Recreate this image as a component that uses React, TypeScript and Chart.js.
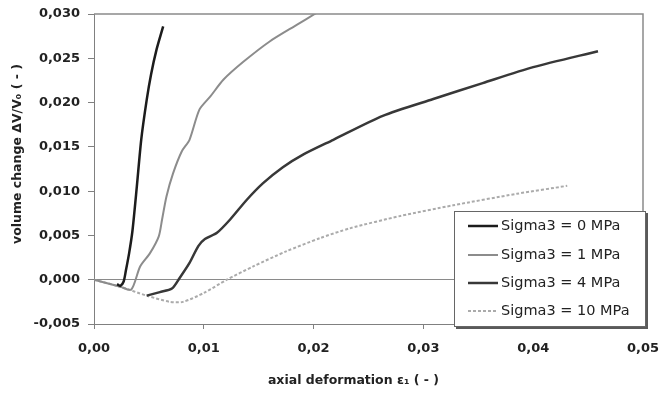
import React, { useEffect, useRef } from "react";
import { Chart, registerables } from "chart.js";

Chart.register(...registerables);

// ---- data ----
const seriesLabels = ["Sigma3 = 0 MPa", "Sigma3 = 1 MPa", "Sigma3 = 4 MPa", "Sigma3 = 10 MPa"];

const eps0 = [0.0021, 0.0024, 0.0027, 0.0029, 0.0032, 0.0035, 0.0039, 0.0043, 0.0048, 0.0052, 0.0057, 0.0063];
const vol0 = [-0.0005, -0.0007, -0.0002, 0.001, 0.003, 0.0055, 0.0105, 0.0158, 0.0203, 0.0232, 0.026, 0.0286];

const eps1 = [0, 0.0012, 0.0024, 0.0034, 0.0042, 0.0051, 0.0059, 0.0062, 0.0066, 0.0072, 0.008, 0.0087, 0.0096, 0.0106, 0.0118, 0.0136, 0.016, 0.0185, 0.0201, 0.0206];
const vol1 = [0, -0.0004, -0.0008, -0.0011, 0.0015, 0.003, 0.0049, 0.0068, 0.0094, 0.012, 0.0145, 0.0158, 0.0192, 0.0207, 0.0226, 0.0246, 0.0269, 0.0288, 0.03, 0.0304];

const eps4 = [0.0048, 0.006, 0.0071, 0.0078, 0.0087, 0.0095, 0.0101, 0.0112, 0.0124, 0.0139, 0.0154, 0.0172, 0.019, 0.0218, 0.0263, 0.0309, 0.0354, 0.04, 0.0459];
const vol4 = [-0.0018, -0.0014, -0.001, 0.0002, 0.0019, 0.0038, 0.0046, 0.0053, 0.0068, 0.009, 0.0109, 0.0127, 0.0141, 0.0158, 0.0185, 0.0204, 0.0222, 0.024, 0.0258];

const eps10 = [0, 0.0024, 0.0048, 0.0069, 0.0081, 0.01, 0.0121, 0.0145, 0.0175, 0.0206, 0.0233, 0.0279, 0.0327, 0.0385, 0.0431];
const vol10 = [0, -0.0008, -0.0018, -0.0025, -0.0025, -0.0015, 0, 0.0015, 0.0032, 0.0047, 0.0058, 0.0072, 0.0084, 0.0097, 0.0106];

const xTitle = "axial deformation \u03B5\u2081 ( - )";
const yTitle = "volume change \u0394V/V\u2080 ( - )";

const FONT = "'DejaVu Sans', 'Liberation Sans', Arial, sans-serif";

const pts = (xs: number[], ys: number[]) => xs.map((x, i) => ({ x, y: ys[i] }));

const framePlugin = {
  id: "frameAndExtras",
  afterDraw(chart: any) {
    const { ctx, chartArea } = chart;
    const { left, right, top, bottom } = chartArea;
    ctx.save();
    // top & right frame
    ctx.strokeStyle = "#8a8a8a";
    ctx.lineWidth = 1.5;
    ctx.beginPath();
    ctx.moveTo(left, top);
    ctx.lineTo(right, top);
    ctx.lineTo(right, bottom);
    ctx.stroke();

    // axis titles
    ctx.fillStyle = "#222";
    ctx.font = `bold 12.5px ${FONT}`;
    ctx.textAlign = "center";
    ctx.textBaseline = "middle";
    ctx.fillText(xTitle, (left + right) / 2 - 15, 381);
    ctx.translate(18, (top + bottom) / 2 - 15);
    ctx.rotate(-Math.PI / 2);
    ctx.fillText(yTitle, 0, 0);
    ctx.restore();

    // legend
    ctx.save();
    const lx = 454, ly = 211, lw = 191, lh = 115;
    ctx.fillStyle = "#5a5a5a";
    ctx.fillRect(lx + 2, ly + 2, lw + 1, lh + 1);
    ctx.fillStyle = "#fff";
    ctx.fillRect(lx, ly, lw, lh);
    ctx.strokeStyle = "#666";
    ctx.lineWidth = 1;
    ctx.strokeRect(lx + 0.5, ly + 0.5, lw, lh);
    const ys = [226, 255, 283, 311];
    chart.data.datasets.forEach((ds: any, i: number) => {
      ctx.strokeStyle = ds.borderColor;
      ctx.lineWidth = ds.borderWidth;
      ctx.setLineDash(ds.borderDash || []);
      ctx.beginPath();
      ctx.moveTo(468, ys[i]);
      ctx.lineTo(498, ys[i]);
      ctx.stroke();
      ctx.setLineDash([]);
      ctx.fillStyle = "#222";
      ctx.font = `14.5px ${FONT}`;
      ctx.textAlign = "left";
      ctx.textBaseline = "middle";
      ctx.fillText(ds.label, 501, ys[i]);
    });
    ctx.restore();
  },
};

export default function App() {
  const ref = useRef<HTMLCanvasElement | null>(null);
  useEffect(() => {
    document.body.style.margin = "0";
    const canvas = ref.current!;
    const chart = new Chart(canvas, {
      type: "line",
      data: {
        datasets: [
          { label: seriesLabels[0], data: pts(eps0, vol0), borderColor: "#1c1c1c", borderWidth: 2.5 },
          { label: seriesLabels[1], data: pts(eps1, vol1), borderColor: "#8c8c8c", borderWidth: 2 },
          { label: seriesLabels[2], data: pts(eps4, vol4), borderColor: "#383838", borderWidth: 2.5 },
          { label: seriesLabels[3], data: pts(eps10, vol10), borderColor: "#ababab", borderWidth: 2, borderDash: [3, 2] },
        ] as any,
      },
      options: {
        animation: false,
        responsive: false,
        devicePixelRatio: 1,
        layout: { padding: { left: 0, top: 14, right: 20, bottom: 0 } },
        elements: { point: { radius: 0 }, line: { tension: 0.25, fill: false } },
        plugins: { legend: { display: false }, tooltip: { enabled: false }, title: { display: false } },
        scales: {
          x: {
            type: "linear",
            min: 0,
            max: 0.05,
            afterFit: (s: any) => { s.height = 72; s.paddingLeft = 0; s.paddingRight = 0; },
            border: { color: "#808080", width: 1 },
            grid: { display: true, drawOnChartArea: false, drawTicks: true, tickLength: 5, color: "#808080" },
            ticks: {
              stepSize: 0.01,
              padding: 12,
              color: "#222",
              font: { family: FONT, size: 13, weight: "bold" },
              callback: (v: any) => (Math.abs(v) < 1e-9 ? 0 : Number(v)).toFixed(2).replace(".", ","),
            },
          },
          y: {
            type: "linear",
            min: -0.005,
            max: 0.03,
            afterFit: (s: any) => { s.width = 94; s.paddingTop = 0; s.paddingBottom = 0; },
            border: { color: "#808080", width: 1 },
            grid: {
              display: true,
              drawTicks: true,
              tickLength: 6,
              tickColor: "#808080",
              color: (c: any) => (c.tick && Math.abs(c.tick.value) < 1e-9 ? "#8a8a8a" : "rgba(0,0,0,0)"),
            },
            ticks: {
              stepSize: 0.005,
              padding: 8,
              color: "#222",
              font: { family: FONT, size: 13, weight: "bold" },
              callback: (v: any) => (Math.abs(v) < 1e-9 ? 0 : Number(v)).toFixed(3).replace(".", ","),
            },
          },
        },
      } as any,
      plugins: [framePlugin],
    });
    return () => chart.destroy();
  }, []);
  return (
    <div style={{ width: 663, height: 396, background: "#fff" }}>
      <canvas ref={ref} width={663} height={396} style={{ display: "block" }} />
    </div>
  );
}
